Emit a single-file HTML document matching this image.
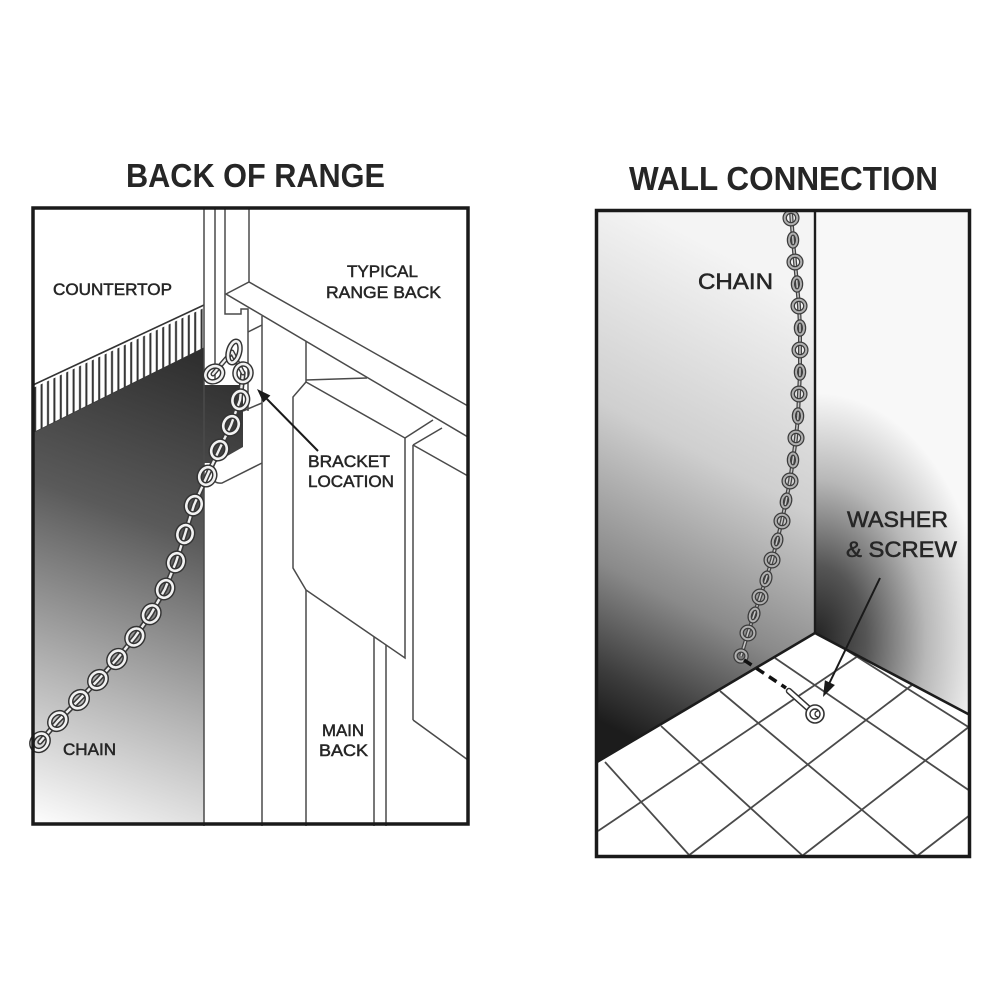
<!DOCTYPE html>
<html>
<head>
<meta charset="utf-8">
<style>
html,body{margin:0;padding:0;background:#fff;}
svg{display:block;}
text{font-family:"Liberation Sans",Arial,sans-serif;}
.lb{font-size:16.5px;fill:#262626;stroke:#262626;stroke-width:0.5;}
.lr{font-size:22.5px;fill:#262626;stroke:#262626;stroke-width:0.55;}
.ttl{font-size:33px;font-weight:bold;fill:#262626;}
.ln{stroke:#4a4a4a;stroke-width:1.5;fill:none;}
.tl{stroke:#4a4a4a;stroke-width:1.8;fill:none;}
</style>
</head>
<body>
<svg width="1000" height="1000" viewBox="0 0 1000 1000" xmlns="http://www.w3.org/2000/svg">
<defs>
  <linearGradient id="gL" gradientUnits="userSpaceOnUse" x1="215" y1="360" x2="40" y2="830">
    <stop offset="0" stop-color="#2e2e2e"/>
    <stop offset="0.35" stop-color="#5a5a5a"/>
    <stop offset="0.7" stop-color="#b5b5b5"/>
    <stop offset="1" stop-color="#ffffff"/>
  </linearGradient>
  <linearGradient id="gW" gradientUnits="userSpaceOnUse" x1="815" y1="300" x2="597" y2="720">
    <stop offset="0" stop-color="#f4f4f4"/>
    <stop offset="0.4" stop-color="#cfcfcf"/>
    <stop offset="0.7" stop-color="#8a8a8a"/>
    <stop offset="0.9" stop-color="#3c3c3c"/>
    <stop offset="1" stop-color="#1c1c1c"/>
  </linearGradient>
  <radialGradient id="gR" gradientUnits="userSpaceOnUse" cx="815" cy="640" r="190" gradientTransform="translate(815 640) scale(0.9 1.3) translate(-815 -640)">
    <stop offset="0" stop-color="#222"/>
    <stop offset="0.3" stop-color="#555"/>
    <stop offset="0.65" stop-color="#b8b8b8"/>
    <stop offset="1" stop-color="#f8f8f8"/>
  </radialGradient>
  <pattern id="hatch" patternUnits="userSpaceOnUse" width="6.4" height="10">
    <rect x="0" y="0" width="6.4" height="10" fill="#fff"/>
    <rect x="2.2" y="0" width="2" height="10" fill="#333"/>
  </pattern>
</defs>

<!-- Titles -->
<text class="ttl" x="126" y="187" textLength="259" lengthAdjust="spacingAndGlyphs">BACK OF RANGE</text>
<text class="ttl" x="629" y="190" textLength="309" lengthAdjust="spacingAndGlyphs">WALL CONNECTION</text>

<!-- ================= LEFT PANEL ================= -->
<polygon points="33,388 204,308 204,348 33,433" fill="url(#hatch)"/>
<line x1="33" y1="385" x2="204" y2="305" stroke="#333" stroke-width="1.6"/>
<line x1="33" y1="433" x2="204" y2="348" stroke="#333" stroke-width="1.2"/>
<polygon points="33,433 204,348 204,385 243,385 243,447 215,463 204,463 204,826 33,826" fill="url(#gL)"/>

<line class="ln" x1="204" y1="208" x2="204" y2="826" stroke="#444"/>
<line class="ln" x1="215" y1="208" x2="215" y2="384"/>
<line class="ln" x1="225" y1="208" x2="225" y2="294"/>
<line class="ln" x1="249" y1="208" x2="249" y2="282"/>
<polygon class="ln" points="226,294 249,282 468,406 468,437"/>
<polyline class="ln" points="225,294 225,314 241,314 241,309 248,309 248,332"/>
<line class="ln" x1="248" y1="332" x2="262" y2="325"/>
<line class="ln" x1="248" y1="332" x2="248" y2="411"/>
<line class="ln" x1="243" y1="411" x2="262" y2="403"/>
<line class="ln" x1="262" y1="316" x2="262" y2="826"/>
<path class="ln" d="M213,463 L213,476 Q213,484 222,483 L262,463"/>
<line class="ln" x1="306" y1="341" x2="306" y2="382"/>
<line class="ln" x1="306" y1="380" x2="367" y2="378"/>
<polygon class="ln" points="306,382 405,438 405,658 306,590 293,568 293,397"/>
<line class="ln" x1="405" y1="438" x2="433" y2="420"/>
<line class="ln" x1="413" y1="445" x2="413" y2="720"/>
<line class="ln" x1="413" y1="445" x2="442" y2="428"/>
<line class="ln" x1="413" y1="445" x2="468" y2="476"/>
<line class="ln" x1="413" y1="720" x2="468" y2="760"/>
<line class="ln" x1="306" y1="590" x2="306" y2="826"/>
<line class="ln" x1="374" y1="637" x2="374" y2="826"/>
<line class="ln" x1="386" y1="645" x2="386" y2="826"/>

<!-- left chain -->
<g fill="none" stroke-linecap="round" stroke-linejoin="round">
  <polyline points="243,373 240,400 231,425 219,450 207,476 194,505 185,534 176,562 165,589 151,614 135,637 117,659 98,680 79,700 58,721 40,742" stroke="#3a3a3a" stroke-width="5.5"/>
  <polyline points="243,373 240,400 231,425 219,450 207,476 194,505 185,534 176,562 165,589 151,614 135,637 117,659 98,680 79,700 58,721 40,742" stroke="#f0f0f0" stroke-width="2.4"/>
  <polyline points="213,374 232,352 243,373" stroke="#3a3a3a" stroke-width="5"/>
  <polyline points="213,374 232,352 243,373" stroke="#f0f0f0" stroke-width="2.2"/>
  <g stroke="#333" stroke-width="5.5">
    <ellipse cx="234" cy="352" rx="11" ry="5.5" transform="rotate(-75 234 352)"/>
    <ellipse cx="214" cy="374" rx="9" ry="7.5" transform="rotate(-30 214 374)"/>
    <ellipse cx="243" cy="373" rx="9" ry="8" transform="rotate(96 243 373)"/>
    <ellipse cx="240" cy="400" rx="9" ry="7.5" transform="rotate(103 240 400)"/>
    <ellipse cx="231" cy="425" rx="9" ry="7.5" transform="rotate(113 231 425)"/>
    <ellipse cx="219" cy="450" rx="9" ry="7.5" transform="rotate(115 219 450)"/>
    <ellipse cx="207" cy="476" rx="9" ry="7.5" transform="rotate(114 207 476)"/>
    <ellipse cx="194" cy="505" rx="9" ry="7.5" transform="rotate(111 194 505)"/>
    <ellipse cx="185" cy="534" rx="9" ry="7.5" transform="rotate(107 185 534)"/>
    <ellipse cx="176" cy="562" rx="9" ry="7.5" transform="rotate(110 176 562)"/>
    <ellipse cx="165" cy="589" rx="9" ry="7.5" transform="rotate(116 165 589)"/>
    <ellipse cx="151" cy="614" rx="9" ry="7.5" transform="rotate(122 151 614)"/>
    <ellipse cx="135" cy="637" rx="9" ry="7.5" transform="rotate(127 135 637)"/>
    <ellipse cx="117" cy="659" rx="9" ry="7.5" transform="rotate(131 117 659)"/>
    <ellipse cx="98" cy="680" rx="9" ry="7.5" transform="rotate(133 98 680)"/>
    <ellipse cx="79" cy="700" rx="9" ry="7.5" transform="rotate(134 79 700)"/>
    <ellipse cx="58" cy="721" rx="9" ry="7.5" transform="rotate(133 58 721)"/>
    <ellipse cx="40" cy="742" rx="9" ry="7.5" transform="rotate(130 40 742)"/>
  </g>
  <g stroke="#f2f2f2" stroke-width="2.6">
    <ellipse cx="234" cy="352" rx="11" ry="5.5" transform="rotate(-75 234 352)"/>
    <ellipse cx="214" cy="374" rx="9" ry="7.5" transform="rotate(-30 214 374)"/>
    <ellipse cx="243" cy="373" rx="9" ry="8" transform="rotate(96 243 373)"/>
    <ellipse cx="240" cy="400" rx="9" ry="7.5" transform="rotate(103 240 400)"/>
    <ellipse cx="231" cy="425" rx="9" ry="7.5" transform="rotate(113 231 425)"/>
    <ellipse cx="219" cy="450" rx="9" ry="7.5" transform="rotate(115 219 450)"/>
    <ellipse cx="207" cy="476" rx="9" ry="7.5" transform="rotate(114 207 476)"/>
    <ellipse cx="194" cy="505" rx="9" ry="7.5" transform="rotate(111 194 505)"/>
    <ellipse cx="185" cy="534" rx="9" ry="7.5" transform="rotate(107 185 534)"/>
    <ellipse cx="176" cy="562" rx="9" ry="7.5" transform="rotate(110 176 562)"/>
    <ellipse cx="165" cy="589" rx="9" ry="7.5" transform="rotate(116 165 589)"/>
    <ellipse cx="151" cy="614" rx="9" ry="7.5" transform="rotate(122 151 614)"/>
    <ellipse cx="135" cy="637" rx="9" ry="7.5" transform="rotate(127 135 637)"/>
    <ellipse cx="117" cy="659" rx="9" ry="7.5" transform="rotate(131 117 659)"/>
    <ellipse cx="98" cy="680" rx="9" ry="7.5" transform="rotate(133 98 680)"/>
    <ellipse cx="79" cy="700" rx="9" ry="7.5" transform="rotate(134 79 700)"/>
    <ellipse cx="58" cy="721" rx="9" ry="7.5" transform="rotate(133 58 721)"/>
    <ellipse cx="40" cy="742" rx="9" ry="7.5" transform="rotate(130 40 742)"/>
  </g>
</g>

<!-- bracket arrow -->
<line x1="318" y1="451" x2="264" y2="396" stroke="#1a1a1a" stroke-width="2"/>
<polygon points="257,389 270.4,395.5 263.3,402.5" fill="#1a1a1a"/>

<!-- left labels -->
<text class="lb" x="53" y="295" textLength="119" lengthAdjust="spacingAndGlyphs">COUNTERTOP</text>
<text class="lb" x="347" y="277" textLength="71" lengthAdjust="spacingAndGlyphs">TYPICAL</text>
<text class="lb" x="326" y="298" textLength="115" lengthAdjust="spacingAndGlyphs">RANGE BACK</text>
<text class="lb" x="308" y="467" textLength="82" lengthAdjust="spacingAndGlyphs">BRACKET</text>
<text class="lb" x="308" y="487" textLength="86" lengthAdjust="spacingAndGlyphs">LOCATION</text>
<text class="lb" x="63" y="755" textLength="53" lengthAdjust="spacingAndGlyphs">CHAIN</text>
<text class="lb" x="322" y="736" textLength="42" lengthAdjust="spacingAndGlyphs">MAIN</text>
<text class="lb" x="319" y="756" textLength="49" lengthAdjust="spacingAndGlyphs">BACK</text>

<rect x="33" y="208" width="435" height="616" fill="none" stroke="#1a1a1a" stroke-width="3.5"/>

<!-- ================= RIGHT PANEL ================= -->
<polygon points="597,211 815,211 815,633 597,762" fill="url(#gW)"/>
<polygon points="815,211 970,211 970,715 815,633" fill="url(#gR)"/>
<polygon points="597,762 815,633 970,715 970,857 597,857" fill="#fff"/>

<g class="tl">
  <line x1="605" y1="762" x2="690" y2="856"/>
  <line x1="661" y1="726" x2="803" y2="856"/>
  <line x1="720" y1="691" x2="917" y2="856"/>
  <line x1="775" y1="658" x2="970" y2="791"/>
  <line x1="840" y1="646" x2="970" y2="728"/>
  <line x1="598" y1="831" x2="858" y2="656"/>
  <line x1="688" y1="856" x2="912" y2="685"/>
  <line x1="802" y1="856" x2="970" y2="726"/>
  <line x1="917" y1="856" x2="970" y2="815"/>
</g>

<polyline points="597,762 815,633 970,715" fill="none" stroke="#1c1c1c" stroke-width="2.6"/>
<line x1="815" y1="211" x2="815" y2="633" stroke="#1c1c1c" stroke-width="2.4"/>

<!-- right chain -->
<g fill="none">
  <polyline points="791,212 793,240 795,262 797,284 799,306 800,328 800,350 800,372 799,394 798,416 796,438 793,460 790,481 786,501 782,521 777,541 772,560 766,579 760,597 754,615 748,633 741,656" stroke="#444" stroke-width="4"/>
  <polyline points="791,212 793,240 795,262 797,284 799,306 800,328 800,350 800,372 799,394 798,416 796,438 793,460 790,481 786,501 782,521 777,541 772,560 766,579 760,597 754,615 748,633 741,656" stroke="#c8c8c8" stroke-width="1.5"/>
  <g stroke="#3c3c3c" stroke-width="4.5">
    <circle cx="791" cy="218" r="6.3"/><circle cx="795" cy="262" r="6.3"/><circle cx="799" cy="306" r="6.3"/>
    <circle cx="800" cy="350" r="6.3"/><circle cx="799" cy="394" r="6.3"/><circle cx="796" cy="438" r="6.3"/>
    <circle cx="790" cy="481" r="6.3"/><circle cx="782" cy="521" r="6.3"/><circle cx="772" cy="560" r="6.3"/>
    <circle cx="760" cy="597" r="6.3"/><circle cx="748" cy="633" r="6.3"/><circle cx="741" cy="656" r="5.5"/>
    <ellipse cx="793" cy="240" rx="4" ry="6.5"/><ellipse cx="797" cy="284" rx="4" ry="6.5"/>
    <ellipse cx="800" cy="328" rx="4" ry="6.5"/><ellipse cx="800" cy="372" rx="4" ry="6.5"/>
    <ellipse cx="798" cy="416" rx="4" ry="6.5"/><ellipse cx="793" cy="460" rx="4" ry="6.5"/>
    <ellipse cx="786" cy="501" rx="4" ry="6.5" transform="rotate(12 786 501)"/>
    <ellipse cx="777" cy="541" rx="4" ry="6.5" transform="rotate(15 777 541)"/>
    <ellipse cx="766" cy="579" rx="4" ry="6.5" transform="rotate(18 766 579)"/>
    <ellipse cx="754" cy="615" rx="4" ry="6.5" transform="rotate(18 754 615)"/>
  </g>
  <g stroke="#b0b0b0" stroke-width="2">
    <circle cx="791" cy="218" r="6.3"/><circle cx="795" cy="262" r="6.3"/><circle cx="799" cy="306" r="6.3"/>
    <circle cx="800" cy="350" r="6.3"/><circle cx="799" cy="394" r="6.3"/><circle cx="796" cy="438" r="6.3"/>
    <circle cx="790" cy="481" r="6.3"/><circle cx="782" cy="521" r="6.3"/><circle cx="772" cy="560" r="6.3"/>
    <circle cx="760" cy="597" r="6.3"/><circle cx="748" cy="633" r="6.3"/><circle cx="741" cy="656" r="5.5"/>
    <ellipse cx="793" cy="240" rx="4" ry="6.5"/><ellipse cx="797" cy="284" rx="4" ry="6.5"/>
    <ellipse cx="800" cy="328" rx="4" ry="6.5"/><ellipse cx="800" cy="372" rx="4" ry="6.5"/>
    <ellipse cx="798" cy="416" rx="4" ry="6.5"/><ellipse cx="793" cy="460" rx="4" ry="6.5"/>
    <ellipse cx="786" cy="501" rx="4" ry="6.5" transform="rotate(12 786 501)"/>
    <ellipse cx="777" cy="541" rx="4" ry="6.5" transform="rotate(15 777 541)"/>
    <ellipse cx="766" cy="579" rx="4" ry="6.5" transform="rotate(18 766 579)"/>
    <ellipse cx="754" cy="615" rx="4" ry="6.5" transform="rotate(18 754 615)"/>
  </g>
</g>

<!-- dashed line, screw & washer -->
<line x1="744" y1="660" x2="786" y2="688" stroke="#111" stroke-width="3.5" stroke-dasharray="9 6"/>
<line x1="789" y1="691" x2="808" y2="708" stroke="#333" stroke-width="6.5" stroke-linecap="round"/>
<line x1="789" y1="691" x2="808" y2="708" stroke="#fff" stroke-width="3.5" stroke-linecap="round"/>
<circle cx="815" cy="714" r="9" fill="#fff" stroke="#333" stroke-width="1.6"/>
<circle cx="815" cy="714" r="5" fill="#fff" stroke="#333" stroke-width="1.4"/>
<path d="M818,711 A3,3 0 1 0 818,717" fill="none" stroke="#333" stroke-width="1.3"/>

<!-- washer arrow -->
<line x1="880" y1="578" x2="828" y2="686" stroke="#1a1a1a" stroke-width="2"/>
<polygon points="823,697 834.9,685 824.9,680.2" fill="#1a1a1a"/>

<!-- right labels -->
<text class="lr" x="698" y="289" textLength="75" lengthAdjust="spacingAndGlyphs">CHAIN</text>
<text class="lr" x="847" y="527" textLength="101" lengthAdjust="spacingAndGlyphs">WASHER</text>
<text class="lr" x="846" y="557" textLength="111" lengthAdjust="spacingAndGlyphs">&amp; SCREW</text>

<rect x="596.5" y="210.5" width="373" height="646" fill="none" stroke="#1a1a1a" stroke-width="3.5"/>
</svg>
</body>
</html>
